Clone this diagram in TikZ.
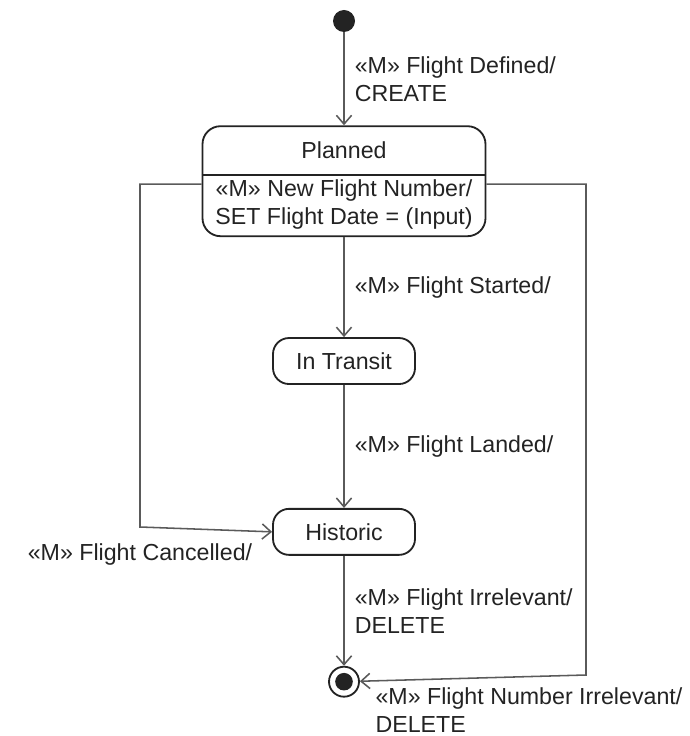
\documentclass[tikz,border=0pt]{standalone}
\usepackage{fontspec}
\setmainfont{Liberation Sans}
\usepackage{xcolor}
\definecolor{ink}{RGB}{35, 35, 35}
\definecolor{wire}{RGB}{90, 90, 90}
\usepackage{tikz}
\usetikzlibrary{arrows.meta, positioning}

\begin{document}
\begin{tikzpicture}[x=0.25mm, y=-0.25mm,
  font=\fontsize{16.5}{20}\selectfont, text=ink,
  startdot/.style={circle, fill=ink, minimum size=5.5mm, inner sep=0pt},
  enddot/.style={circle, draw=ink, line width=1.3pt, minimum size=7.5mm, inner sep=0pt,
    path picture={\fill[ink] (path picture bounding box.center) circle (2.2mm);}},
  statebox/.style={draw=ink, line width=1.3pt, rounded corners=4mm,
    minimum width=35.5mm, minimum height=11.5mm, align=center},
  bigstate/.style={draw=ink, line width=1.3pt, rounded corners=4.5mm,
    minimum width=70.75mm, minimum height=27.5mm},
  lbl/.style={align=left, inner sep=0.5mm, text=ink},
  arr/.style={-{Straight Barb[length=2.2mm, width=3.8mm]}, line width=1.1pt, draw=wire}]

  \useasboundingbox (0,0) rectangle (689,736);

  \node[startdot] (init) at (344,21) {};
  \node[bigstate, below=23.25mm of init] (planned) {};
  \node (plannedname) at ([yshift=-6.25mm]planned.north) {Planned};
  \draw[ink, line width=1.3pt] ([yshift=-12.5mm]planned.north west) -- ([yshift=-12.5mm]planned.north east);
  \node[align=center, inner sep=0pt] (plannedact) at ([yshift=8.25mm]planned.south)
    {«M» New Flight Number/\\SET Flight Date = (Input)};

  \node[statebox, below=25mm of planned] (transit) {In Transit};
  \node[statebox, below=30.75mm of transit] (historic) {Historic};
  \node[enddot, below=27.5mm of historic] (final) {};

  \coordinate (leftturn) at (140,527);
  \coordinate (rightturn) at (586,675);

  \draw[arr] (init) -- node[lbl, right=2mm] {«M» Flight Defined/\\CREATE} (planned);
  \draw[arr] (planned) -- node[lbl, right=2mm] {«M» Flight Started/} (transit);
  \draw[arr] (transit) -- node[lbl, right=2mm] {«M» Flight Landed/} (historic);
  \draw[arr] (historic) -- node[lbl, right=2mm] {«M» Flight Irrelevant/\\DELETE} (final);

  \draw[arr] ([yshift=-0.75mm]planned.west) -| (leftturn)
    node[lbl, below=3.5mm] {«M» Flight Cancelled/} -- (historic.west);
  \draw[arr] ([yshift=-0.75mm]planned.east) -| (rightturn) -- (final);
  \node[lbl, anchor=north west] (numlbl) at ([xshift=4.5mm, yshift=2mm]final.south east)
    {«M» Flight Number Irrelevant/\\DELETE};

\end{tikzpicture}
\end{document}
